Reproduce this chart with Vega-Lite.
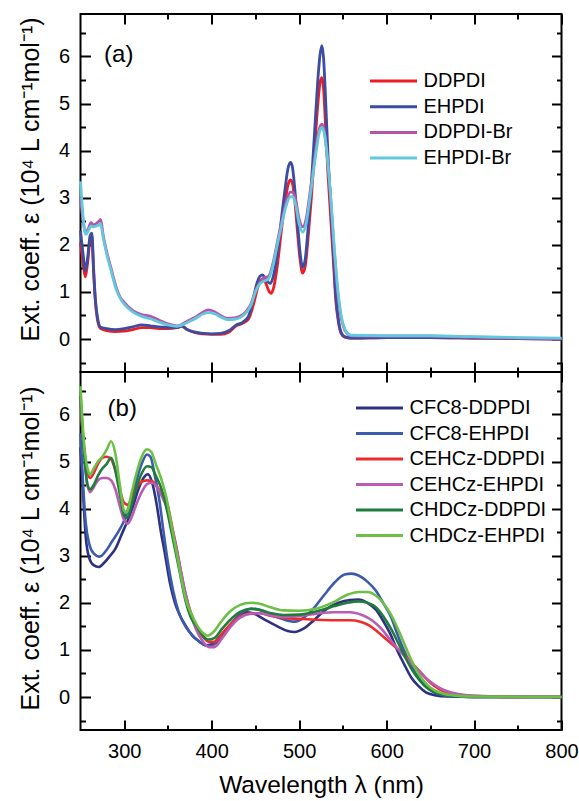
{
"$schema": "https://vega.github.io/schema/vega-lite/v6.json",
"background": "white",
"padding": {"top": 12, "left": 16.5, "right": 12, "bottom": 2},
"spacing": 0,
"bounds": "flush",
"config": {
  "view": {"stroke": "black", "strokeWidth": 2},
  "axis": {"grid": false, "domain": false, "tickColor": "black", "tickWidth": 2, "labelFont": "Liberation Sans", "labelFontSize": 20, "labelColor": "black", "titleFont": "Liberation Sans", "titleFontSize": 25, "titleFontWeight": "normal", "titleColor": "black", "labelFlush": false, "labelOverlap": false},
  "legend": {"labelFont": "Liberation Sans", "labelFontSize": 20, "labelColor": "black", "symbolType": "stroke", "symbolStrokeWidth": 3, "symbolSize": 2209, "clipHeight": 20, "padding": 0, "labelOffset": 5, "title": null},
  "text": {"font": "Liberation Sans"}
},
"resolve": {"scale": {"color": "independent"}},
"datasets": {
"a": [
{"s":"DDPDI","w":250,"e":2.05},{"s":"DDPDI","w":253,"e":1.6},{"s":"DDPDI","w":255.5,"e":1.32},{"s":"DDPDI","w":258,"e":1.6},{"s":"DDPDI","w":261,"e":2.1},{"s":"DDPDI","w":263,"e":2.15},{"s":"DDPDI","w":265,"e":1.4},{"s":"DDPDI","w":267,"e":0.8},{"s":"DDPDI","w":270,"e":0.35},{"s":"DDPDI","w":273,"e":0.22},{"s":"DDPDI","w":280,"e":0.18},{"s":"DDPDI","w":290,"e":0.16},{"s":"DDPDI","w":300,"e":0.17},{"s":"DDPDI","w":310,"e":0.2},{"s":"DDPDI","w":320,"e":0.24},{"s":"DDPDI","w":330,"e":0.24},{"s":"DDPDI","w":340,"e":0.22},{"s":"DDPDI","w":350,"e":0.22},{"s":"DDPDI","w":360,"e":0.24},{"s":"DDPDI","w":366,"e":0.27},{"s":"DDPDI","w":372,"e":0.2},{"s":"DDPDI","w":380,"e":0.14},{"s":"DDPDI","w":390,"e":0.11},{"s":"DDPDI","w":400,"e":0.1},{"s":"DDPDI","w":410,"e":0.1},{"s":"DDPDI","w":420,"e":0.15},{"s":"DDPDI","w":428,"e":0.28},{"s":"DDPDI","w":435,"e":0.33},{"s":"DDPDI","w":442,"e":0.42},{"s":"DDPDI","w":448,"e":0.75},{"s":"DDPDI","w":452,"e":1.05},{"s":"DDPDI","w":456,"e":1.25},{"s":"DDPDI","w":459,"e":1.28},{"s":"DDPDI","w":462,"e":1.18},{"s":"DDPDI","w":466,"e":1.0},{"s":"DDPDI","w":468,"e":0.97},{"s":"DDPDI","w":471,"e":1.1},{"s":"DDPDI","w":475,"e":1.55},{"s":"DDPDI","w":480,"e":2.35},{"s":"DDPDI","w":484,"e":2.9},{"s":"DDPDI","w":487,"e":3.25},{"s":"DDPDI","w":490,"e":3.38},{"s":"DDPDI","w":492,"e":3.33},{"s":"DDPDI","w":495,"e":2.95},{"s":"DDPDI","w":498,"e":2.3},{"s":"DDPDI","w":501,"e":1.7},{"s":"DDPDI","w":504,"e":1.4},{"s":"DDPDI","w":507,"e":1.55},{"s":"DDPDI","w":510,"e":2.1},{"s":"DDPDI","w":514,"e":3.0},{"s":"DDPDI","w":518,"e":4.1},{"s":"DDPDI","w":521,"e":4.9},{"s":"DDPDI","w":524,"e":5.45},{"s":"DDPDI","w":526,"e":5.55},{"s":"DDPDI","w":528,"e":5.3},{"s":"DDPDI","w":530,"e":4.6},{"s":"DDPDI","w":533,"e":3.5},{"s":"DDPDI","w":536,"e":2.6},{"s":"DDPDI","w":539,"e":1.7},{"s":"DDPDI","w":542,"e":0.8},{"s":"DDPDI","w":545,"e":0.35},{"s":"DDPDI","w":548,"e":0.12},{"s":"DDPDI","w":552,"e":0.04},{"s":"DDPDI","w":560,"e":0.02},{"s":"DDPDI","w":600,"e":0.03},{"s":"DDPDI","w":650,"e":0.03},{"s":"DDPDI","w":700,"e":0.02},{"s":"DDPDI","w":750,"e":0.01},{"s":"DDPDI","w":800,"e":0.0},
{"s":"EHPDI","w":250,"e":2.3},{"s":"EHPDI","w":253,"e":1.8},{"s":"EHPDI","w":255.5,"e":1.45},{"s":"EHPDI","w":258,"e":1.7},{"s":"EHPDI","w":261,"e":2.2},{"s":"EHPDI","w":263,"e":2.25},{"s":"EHPDI","w":265,"e":1.5},{"s":"EHPDI","w":267,"e":0.85},{"s":"EHPDI","w":270,"e":0.4},{"s":"EHPDI","w":273,"e":0.25},{"s":"EHPDI","w":280,"e":0.22},{"s":"EHPDI","w":290,"e":0.2},{"s":"EHPDI","w":300,"e":0.22},{"s":"EHPDI","w":310,"e":0.26},{"s":"EHPDI","w":320,"e":0.3},{"s":"EHPDI","w":330,"e":0.28},{"s":"EHPDI","w":340,"e":0.26},{"s":"EHPDI","w":350,"e":0.25},{"s":"EHPDI","w":360,"e":0.24},{"s":"EHPDI","w":366,"e":0.28},{"s":"EHPDI","w":372,"e":0.2},{"s":"EHPDI","w":380,"e":0.15},{"s":"EHPDI","w":390,"e":0.12},{"s":"EHPDI","w":400,"e":0.11},{"s":"EHPDI","w":410,"e":0.12},{"s":"EHPDI","w":420,"e":0.18},{"s":"EHPDI","w":428,"e":0.3},{"s":"EHPDI","w":435,"e":0.35},{"s":"EHPDI","w":442,"e":0.48},{"s":"EHPDI","w":448,"e":0.9},{"s":"EHPDI","w":452,"e":1.2},{"s":"EHPDI","w":455,"e":1.33},{"s":"EHPDI","w":458,"e":1.36},{"s":"EHPDI","w":461,"e":1.3},{"s":"EHPDI","w":465,"e":1.2},{"s":"EHPDI","w":467,"e":1.18},{"s":"EHPDI","w":470,"e":1.3},{"s":"EHPDI","w":475,"e":1.8},{"s":"EHPDI","w":480,"e":2.6},{"s":"EHPDI","w":484,"e":3.2},{"s":"EHPDI","w":487,"e":3.6},{"s":"EHPDI","w":490,"e":3.75},{"s":"EHPDI","w":492,"e":3.68},{"s":"EHPDI","w":495,"e":3.2},{"s":"EHPDI","w":498,"e":2.5},{"s":"EHPDI","w":501,"e":1.85},{"s":"EHPDI","w":504,"e":1.52},{"s":"EHPDI","w":507,"e":1.7},{"s":"EHPDI","w":510,"e":2.3},{"s":"EHPDI","w":514,"e":3.3},{"s":"EHPDI","w":518,"e":4.5},{"s":"EHPDI","w":521,"e":5.4},{"s":"EHPDI","w":524,"e":6.05},{"s":"EHPDI","w":526,"e":6.23},{"s":"EHPDI","w":528,"e":5.95},{"s":"EHPDI","w":530,"e":5.2},{"s":"EHPDI","w":533,"e":3.9},{"s":"EHPDI","w":536,"e":2.9},{"s":"EHPDI","w":539,"e":1.9},{"s":"EHPDI","w":542,"e":0.9},{"s":"EHPDI","w":545,"e":0.4},{"s":"EHPDI","w":548,"e":0.14},{"s":"EHPDI","w":552,"e":0.05},{"s":"EHPDI","w":560,"e":0.02},{"s":"EHPDI","w":600,"e":0.03},{"s":"EHPDI","w":650,"e":0.03},{"s":"EHPDI","w":700,"e":0.02},{"s":"EHPDI","w":750,"e":0.01},{"s":"EHPDI","w":800,"e":0.0},
{"s":"DDPDI-Br","w":250,"e":3.0},{"s":"DDPDI-Br","w":253,"e":2.5},{"s":"DDPDI-Br","w":256,"e":2.25},{"s":"DDPDI-Br","w":259,"e":2.35},{"s":"DDPDI-Br","w":262,"e":2.47},{"s":"DDPDI-Br","w":265,"e":2.42},{"s":"DDPDI-Br","w":268,"e":2.45},{"s":"DDPDI-Br","w":271,"e":2.5},{"s":"DDPDI-Br","w":273,"e":2.54},{"s":"DDPDI-Br","w":276,"e":2.2},{"s":"DDPDI-Br","w":280,"e":1.85},{"s":"DDPDI-Br","w":285,"e":1.5},{"s":"DDPDI-Br","w":290,"e":1.15},{"s":"DDPDI-Br","w":295,"e":0.9},{"s":"DDPDI-Br","w":300,"e":0.78},{"s":"DDPDI-Br","w":310,"e":0.6},{"s":"DDPDI-Br","w":320,"e":0.52},{"s":"DDPDI-Br","w":330,"e":0.48},{"s":"DDPDI-Br","w":340,"e":0.4},{"s":"DDPDI-Br","w":350,"e":0.32},{"s":"DDPDI-Br","w":360,"e":0.28},{"s":"DDPDI-Br","w":365,"e":0.3},{"s":"DDPDI-Br","w":372,"e":0.38},{"s":"DDPDI-Br","w":380,"e":0.45},{"s":"DDPDI-Br","w":390,"e":0.57},{"s":"DDPDI-Br","w":396,"e":0.62},{"s":"DDPDI-Br","w":403,"e":0.58},{"s":"DDPDI-Br","w":410,"e":0.5},{"s":"DDPDI-Br","w":418,"e":0.44},{"s":"DDPDI-Br","w":426,"e":0.45},{"s":"DDPDI-Br","w":433,"e":0.49},{"s":"DDPDI-Br","w":440,"e":0.6},{"s":"DDPDI-Br","w":445,"e":0.75},{"s":"DDPDI-Br","w":450,"e":1.02},{"s":"DDPDI-Br","w":455,"e":1.2},{"s":"DDPDI-Br","w":460,"e":1.3},{"s":"DDPDI-Br","w":465,"e":1.33},{"s":"DDPDI-Br","w":470,"e":1.6},{"s":"DDPDI-Br","w":475,"e":2.05},{"s":"DDPDI-Br","w":480,"e":2.5},{"s":"DDPDI-Br","w":485,"e":2.9},{"s":"DDPDI-Br","w":490,"e":3.12},{"s":"DDPDI-Br","w":493,"e":3.12},{"s":"DDPDI-Br","w":496,"e":2.95},{"s":"DDPDI-Br","w":500,"e":2.55},{"s":"DDPDI-Br","w":504,"e":2.38},{"s":"DDPDI-Br","w":508,"e":2.55},{"s":"DDPDI-Br","w":512,"e":3.05},{"s":"DDPDI-Br","w":516,"e":3.6},{"s":"DDPDI-Br","w":520,"e":4.15},{"s":"DDPDI-Br","w":523,"e":4.45},{"s":"DDPDI-Br","w":526,"e":4.56},{"s":"DDPDI-Br","w":529,"e":4.4},{"s":"DDPDI-Br","w":532,"e":3.9},{"s":"DDPDI-Br","w":536,"e":3.0},{"s":"DDPDI-Br","w":540,"e":1.9},{"s":"DDPDI-Br","w":544,"e":1.0},{"s":"DDPDI-Br","w":548,"e":0.45},{"s":"DDPDI-Br","w":552,"e":0.2},{"s":"DDPDI-Br","w":556,"e":0.1},{"s":"DDPDI-Br","w":560,"e":0.07},{"s":"DDPDI-Br","w":600,"e":0.06},{"s":"DDPDI-Br","w":650,"e":0.06},{"s":"DDPDI-Br","w":700,"e":0.04},{"s":"DDPDI-Br","w":750,"e":0.02},{"s":"DDPDI-Br","w":800,"e":0.01},
{"s":"EHPDI-Br","w":250,"e":3.35},{"s":"EHPDI-Br","w":253,"e":2.6},{"s":"EHPDI-Br","w":256,"e":2.22},{"s":"EHPDI-Br","w":259,"e":2.3},{"s":"EHPDI-Br","w":262,"e":2.4},{"s":"EHPDI-Br","w":265,"e":2.38},{"s":"EHPDI-Br","w":268,"e":2.4},{"s":"EHPDI-Br","w":271,"e":2.42},{"s":"EHPDI-Br","w":273,"e":2.45},{"s":"EHPDI-Br","w":276,"e":2.15},{"s":"EHPDI-Br","w":280,"e":1.8},{"s":"EHPDI-Br","w":285,"e":1.45},{"s":"EHPDI-Br","w":290,"e":1.1},{"s":"EHPDI-Br","w":295,"e":0.88},{"s":"EHPDI-Br","w":300,"e":0.74},{"s":"EHPDI-Br","w":310,"e":0.57},{"s":"EHPDI-Br","w":320,"e":0.48},{"s":"EHPDI-Br","w":330,"e":0.43},{"s":"EHPDI-Br","w":340,"e":0.36},{"s":"EHPDI-Br","w":350,"e":0.3},{"s":"EHPDI-Br","w":360,"e":0.27},{"s":"EHPDI-Br","w":365,"e":0.29},{"s":"EHPDI-Br","w":372,"e":0.35},{"s":"EHPDI-Br","w":380,"e":0.42},{"s":"EHPDI-Br","w":390,"e":0.53},{"s":"EHPDI-Br","w":396,"e":0.56},{"s":"EHPDI-Br","w":403,"e":0.54},{"s":"EHPDI-Br","w":410,"e":0.47},{"s":"EHPDI-Br","w":418,"e":0.41},{"s":"EHPDI-Br","w":426,"e":0.42},{"s":"EHPDI-Br","w":433,"e":0.46},{"s":"EHPDI-Br","w":440,"e":0.57},{"s":"EHPDI-Br","w":445,"e":0.72},{"s":"EHPDI-Br","w":450,"e":1.0},{"s":"EHPDI-Br","w":455,"e":1.17},{"s":"EHPDI-Br","w":460,"e":1.23},{"s":"EHPDI-Br","w":465,"e":1.28},{"s":"EHPDI-Br","w":470,"e":1.55},{"s":"EHPDI-Br","w":475,"e":2.0},{"s":"EHPDI-Br","w":480,"e":2.42},{"s":"EHPDI-Br","w":485,"e":2.82},{"s":"EHPDI-Br","w":490,"e":3.02},{"s":"EHPDI-Br","w":493,"e":3.02},{"s":"EHPDI-Br","w":496,"e":2.85},{"s":"EHPDI-Br","w":500,"e":2.45},{"s":"EHPDI-Br","w":504,"e":2.27},{"s":"EHPDI-Br","w":508,"e":2.45},{"s":"EHPDI-Br","w":512,"e":2.95},{"s":"EHPDI-Br","w":516,"e":3.5},{"s":"EHPDI-Br","w":520,"e":4.05},{"s":"EHPDI-Br","w":523,"e":4.38},{"s":"EHPDI-Br","w":526,"e":4.49},{"s":"EHPDI-Br","w":529,"e":4.35},{"s":"EHPDI-Br","w":532,"e":3.9},{"s":"EHPDI-Br","w":536,"e":3.05},{"s":"EHPDI-Br","w":540,"e":2.0},{"s":"EHPDI-Br","w":544,"e":1.1},{"s":"EHPDI-Br","w":548,"e":0.5},{"s":"EHPDI-Br","w":552,"e":0.22},{"s":"EHPDI-Br","w":556,"e":0.11},{"s":"EHPDI-Br","w":560,"e":0.08},{"s":"EHPDI-Br","w":600,"e":0.07},{"s":"EHPDI-Br","w":650,"e":0.07},{"s":"EHPDI-Br","w":700,"e":0.05},{"s":"EHPDI-Br","w":750,"e":0.03},{"s":"EHPDI-Br","w":800,"e":0.02}
],
"b": [
{"s":"CFC8-DDPDI","w":250,"e":5.3},{"s":"CFC8-DDPDI","w":253,"e":4.3},{"s":"CFC8-DDPDI","w":256,"e":3.4},{"s":"CFC8-DDPDI","w":260,"e":2.95},{"s":"CFC8-DDPDI","w":265,"e":2.8},{"s":"CFC8-DDPDI","w":271,"e":2.76},{"s":"CFC8-DDPDI","w":277,"e":2.85},{"s":"CFC8-DDPDI","w":283,"e":2.98},{"s":"CFC8-DDPDI","w":290,"e":3.15},{"s":"CFC8-DDPDI","w":297,"e":3.45},{"s":"CFC8-DDPDI","w":304,"e":3.75},{"s":"CFC8-DDPDI","w":310,"e":4.05},{"s":"CFC8-DDPDI","w":316,"e":4.4},{"s":"CFC8-DDPDI","w":322,"e":4.65},{"s":"CFC8-DDPDI","w":327,"e":4.73},{"s":"CFC8-DDPDI","w":332,"e":4.55},{"s":"CFC8-DDPDI","w":337,"e":4.1},{"s":"CFC8-DDPDI","w":342,"e":3.5},{"s":"CFC8-DDPDI","w":346,"e":3.1},{"s":"CFC8-DDPDI","w":352,"e":2.45},{"s":"CFC8-DDPDI","w":358,"e":2.0},{"s":"CFC8-DDPDI","w":364,"e":1.72},{"s":"CFC8-DDPDI","w":370,"e":1.52},{"s":"CFC8-DDPDI","w":378,"e":1.3},{"s":"CFC8-DDPDI","w":386,"e":1.18},{"s":"CFC8-DDPDI","w":393,"e":1.1},{"s":"CFC8-DDPDI","w":400,"e":1.12},{"s":"CFC8-DDPDI","w":410,"e":1.3},{"s":"CFC8-DDPDI","w":420,"e":1.5},{"s":"CFC8-DDPDI","w":430,"e":1.7},{"s":"CFC8-DDPDI","w":440,"e":1.8},{"s":"CFC8-DDPDI","w":447,"e":1.78},{"s":"CFC8-DDPDI","w":460,"e":1.65},{"s":"CFC8-DDPDI","w":475,"e":1.5},{"s":"CFC8-DDPDI","w":487,"e":1.4},{"s":"CFC8-DDPDI","w":495,"e":1.38},{"s":"CFC8-DDPDI","w":505,"e":1.45},{"s":"CFC8-DDPDI","w":515,"e":1.6},{"s":"CFC8-DDPDI","w":530,"e":1.85},{"s":"CFC8-DDPDI","w":545,"e":2.0},{"s":"CFC8-DDPDI","w":558,"e":2.06},{"s":"CFC8-DDPDI","w":568,"e":2.07},{"s":"CFC8-DDPDI","w":578,"e":2.0},{"s":"CFC8-DDPDI","w":588,"e":1.85},{"s":"CFC8-DDPDI","w":596,"e":1.62},{"s":"CFC8-DDPDI","w":604,"e":1.35},{"s":"CFC8-DDPDI","w":612,"e":1.0},{"s":"CFC8-DDPDI","w":620,"e":0.7},{"s":"CFC8-DDPDI","w":628,"e":0.42},{"s":"CFC8-DDPDI","w":636,"e":0.24},{"s":"CFC8-DDPDI","w":645,"e":0.1},{"s":"CFC8-DDPDI","w":655,"e":0.04},{"s":"CFC8-DDPDI","w":670,"e":0.01},{"s":"CFC8-DDPDI","w":700,"e":0.0},{"s":"CFC8-DDPDI","w":800,"e":0.0},
{"s":"CFC8-EHPDI","w":250,"e":5.6},{"s":"CFC8-EHPDI","w":253,"e":4.5},{"s":"CFC8-EHPDI","w":256,"e":3.7},{"s":"CFC8-EHPDI","w":260,"e":3.25},{"s":"CFC8-EHPDI","w":265,"e":3.05},{"s":"CFC8-EHPDI","w":272,"e":2.98},{"s":"CFC8-EHPDI","w":279,"e":3.1},{"s":"CFC8-EHPDI","w":286,"e":3.3},{"s":"CFC8-EHPDI","w":293,"e":3.5},{"s":"CFC8-EHPDI","w":300,"e":3.75},{"s":"CFC8-EHPDI","w":307,"e":4.15},{"s":"CFC8-EHPDI","w":314,"e":4.6},{"s":"CFC8-EHPDI","w":320,"e":4.95},{"s":"CFC8-EHPDI","w":326,"e":5.15},{"s":"CFC8-EHPDI","w":330,"e":5.1},{"s":"CFC8-EHPDI","w":335,"e":4.7},{"s":"CFC8-EHPDI","w":340,"e":4.2},{"s":"CFC8-EHPDI","w":345,"e":3.5},{"s":"CFC8-EHPDI","w":350,"e":2.85},{"s":"CFC8-EHPDI","w":356,"e":2.25},{"s":"CFC8-EHPDI","w":362,"e":1.82},{"s":"CFC8-EHPDI","w":370,"e":1.5},{"s":"CFC8-EHPDI","w":380,"e":1.27},{"s":"CFC8-EHPDI","w":390,"e":1.12},{"s":"CFC8-EHPDI","w":398,"e":1.08},{"s":"CFC8-EHPDI","w":408,"e":1.2},{"s":"CFC8-EHPDI","w":420,"e":1.5},{"s":"CFC8-EHPDI","w":432,"e":1.75},{"s":"CFC8-EHPDI","w":445,"e":1.88},{"s":"CFC8-EHPDI","w":455,"e":1.85},{"s":"CFC8-EHPDI","w":468,"e":1.75},{"s":"CFC8-EHPDI","w":482,"e":1.65},{"s":"CFC8-EHPDI","w":495,"e":1.6},{"s":"CFC8-EHPDI","w":505,"e":1.68},{"s":"CFC8-EHPDI","w":515,"e":1.85},{"s":"CFC8-EHPDI","w":528,"e":2.15},{"s":"CFC8-EHPDI","w":540,"e":2.42},{"s":"CFC8-EHPDI","w":552,"e":2.6},{"s":"CFC8-EHPDI","w":560,"e":2.62},{"s":"CFC8-EHPDI","w":568,"e":2.58},{"s":"CFC8-EHPDI","w":578,"e":2.45},{"s":"CFC8-EHPDI","w":588,"e":2.25},{"s":"CFC8-EHPDI","w":596,"e":2.0},{"s":"CFC8-EHPDI","w":605,"e":1.7},{"s":"CFC8-EHPDI","w":613,"e":1.3},{"s":"CFC8-EHPDI","w":622,"e":0.9},{"s":"CFC8-EHPDI","w":630,"e":0.6},{"s":"CFC8-EHPDI","w":638,"e":0.38},{"s":"CFC8-EHPDI","w":646,"e":0.2},{"s":"CFC8-EHPDI","w":655,"e":0.09},{"s":"CFC8-EHPDI","w":665,"e":0.04},{"s":"CFC8-EHPDI","w":680,"e":0.01},{"s":"CFC8-EHPDI","w":700,"e":0.0},{"s":"CFC8-EHPDI","w":800,"e":0.0},
{"s":"CEHCz-DDPDI","w":250,"e":6.3},{"s":"CEHCz-DDPDI","w":254,"e":5.3},{"s":"CEHCz-DDPDI","w":258,"e":4.75},{"s":"CEHCz-DDPDI","w":261,"e":4.65},{"s":"CEHCz-DDPDI","w":265,"e":4.75},{"s":"CEHCz-DDPDI","w":270,"e":4.95},{"s":"CEHCz-DDPDI","w":275,"e":5.08},{"s":"CEHCz-DDPDI","w":280,"e":5.1},{"s":"CEHCz-DDPDI","w":285,"e":5.05},{"s":"CEHCz-DDPDI","w":290,"e":4.8},{"s":"CEHCz-DDPDI","w":295,"e":4.4},{"s":"CEHCz-DDPDI","w":300,"e":4.12},{"s":"CEHCz-DDPDI","w":304,"e":4.08},{"s":"CEHCz-DDPDI","w":308,"e":4.2},{"s":"CEHCz-DDPDI","w":314,"e":4.45},{"s":"CEHCz-DDPDI","w":320,"e":4.57},{"s":"CEHCz-DDPDI","w":326,"e":4.6},{"s":"CEHCz-DDPDI","w":332,"e":4.58},{"s":"CEHCz-DDPDI","w":338,"e":4.45},{"s":"CEHCz-DDPDI","w":344,"e":4.3},{"s":"CEHCz-DDPDI","w":350,"e":4.05},{"s":"CEHCz-DDPDI","w":355,"e":3.6},{"s":"CEHCz-DDPDI","w":360,"e":3.15},{"s":"CEHCz-DDPDI","w":365,"e":2.65},{"s":"CEHCz-DDPDI","w":370,"e":2.2},{"s":"CEHCz-DDPDI","w":376,"e":1.8},{"s":"CEHCz-DDPDI","w":383,"e":1.5},{"s":"CEHCz-DDPDI","w":390,"e":1.28},{"s":"CEHCz-DDPDI","w":397,"e":1.17},{"s":"CEHCz-DDPDI","w":403,"e":1.17},{"s":"CEHCz-DDPDI","w":412,"e":1.35},{"s":"CEHCz-DDPDI","w":422,"e":1.55},{"s":"CEHCz-DDPDI","w":432,"e":1.7},{"s":"CEHCz-DDPDI","w":445,"e":1.78},{"s":"CEHCz-DDPDI","w":455,"e":1.78},{"s":"CEHCz-DDPDI","w":468,"e":1.72},{"s":"CEHCz-DDPDI","w":482,"e":1.68},{"s":"CEHCz-DDPDI","w":500,"e":1.66},{"s":"CEHCz-DDPDI","w":520,"e":1.64},{"s":"CEHCz-DDPDI","w":540,"e":1.63},{"s":"CEHCz-DDPDI","w":558,"e":1.63},{"s":"CEHCz-DDPDI","w":570,"e":1.6},{"s":"CEHCz-DDPDI","w":580,"e":1.52},{"s":"CEHCz-DDPDI","w":590,"e":1.38},{"s":"CEHCz-DDPDI","w":600,"e":1.22},{"s":"CEHCz-DDPDI","w":610,"e":1.06},{"s":"CEHCz-DDPDI","w":620,"e":0.9},{"s":"CEHCz-DDPDI","w":630,"e":0.7},{"s":"CEHCz-DDPDI","w":640,"e":0.5},{"s":"CEHCz-DDPDI","w":650,"e":0.3},{"s":"CEHCz-DDPDI","w":660,"e":0.17},{"s":"CEHCz-DDPDI","w":670,"e":0.09},{"s":"CEHCz-DDPDI","w":685,"e":0.04},{"s":"CEHCz-DDPDI","w":700,"e":0.02},{"s":"CEHCz-DDPDI","w":750,"e":0.0},{"s":"CEHCz-DDPDI","w":800,"e":0.0},
{"s":"CEHCz-EHPDI","w":250,"e":6.3},{"s":"CEHCz-EHPDI","w":254,"e":5.2},{"s":"CEHCz-EHPDI","w":258,"e":4.5},{"s":"CEHCz-EHPDI","w":261,"e":4.35},{"s":"CEHCz-EHPDI","w":265,"e":4.45},{"s":"CEHCz-EHPDI","w":270,"e":4.6},{"s":"CEHCz-EHPDI","w":275,"e":4.65},{"s":"CEHCz-EHPDI","w":280,"e":4.65},{"s":"CEHCz-EHPDI","w":285,"e":4.6},{"s":"CEHCz-EHPDI","w":290,"e":4.4},{"s":"CEHCz-EHPDI","w":295,"e":4.05},{"s":"CEHCz-EHPDI","w":300,"e":3.75},{"s":"CEHCz-EHPDI","w":304,"e":3.68},{"s":"CEHCz-EHPDI","w":308,"e":3.8},{"s":"CEHCz-EHPDI","w":314,"e":4.1},{"s":"CEHCz-EHPDI","w":320,"e":4.35},{"s":"CEHCz-EHPDI","w":326,"e":4.52},{"s":"CEHCz-EHPDI","w":331,"e":4.55},{"s":"CEHCz-EHPDI","w":336,"e":4.5},{"s":"CEHCz-EHPDI","w":342,"e":4.3},{"s":"CEHCz-EHPDI","w":348,"e":4.05},{"s":"CEHCz-EHPDI","w":353,"e":3.7},{"s":"CEHCz-EHPDI","w":358,"e":3.3},{"s":"CEHCz-EHPDI","w":364,"e":2.75},{"s":"CEHCz-EHPDI","w":370,"e":2.2},{"s":"CEHCz-EHPDI","w":376,"e":1.75},{"s":"CEHCz-EHPDI","w":383,"e":1.4},{"s":"CEHCz-EHPDI","w":390,"e":1.18},{"s":"CEHCz-EHPDI","w":397,"e":1.06},{"s":"CEHCz-EHPDI","w":403,"e":1.06},{"s":"CEHCz-EHPDI","w":412,"e":1.25},{"s":"CEHCz-EHPDI","w":422,"e":1.5},{"s":"CEHCz-EHPDI","w":432,"e":1.68},{"s":"CEHCz-EHPDI","w":445,"e":1.77},{"s":"CEHCz-EHPDI","w":455,"e":1.78},{"s":"CEHCz-EHPDI","w":468,"e":1.73},{"s":"CEHCz-EHPDI","w":482,"e":1.7},{"s":"CEHCz-EHPDI","w":500,"e":1.72},{"s":"CEHCz-EHPDI","w":520,"e":1.77},{"s":"CEHCz-EHPDI","w":540,"e":1.8},{"s":"CEHCz-EHPDI","w":558,"e":1.8},{"s":"CEHCz-EHPDI","w":572,"e":1.74},{"s":"CEHCz-EHPDI","w":584,"e":1.62},{"s":"CEHCz-EHPDI","w":594,"e":1.45},{"s":"CEHCz-EHPDI","w":604,"e":1.22},{"s":"CEHCz-EHPDI","w":614,"e":1.0},{"s":"CEHCz-EHPDI","w":624,"e":0.8},{"s":"CEHCz-EHPDI","w":634,"e":0.6},{"s":"CEHCz-EHPDI","w":644,"e":0.42},{"s":"CEHCz-EHPDI","w":654,"e":0.27},{"s":"CEHCz-EHPDI","w":664,"e":0.16},{"s":"CEHCz-EHPDI","w":675,"e":0.09},{"s":"CEHCz-EHPDI","w":690,"e":0.04},{"s":"CEHCz-EHPDI","w":710,"e":0.02},{"s":"CEHCz-EHPDI","w":750,"e":0.0},{"s":"CEHCz-EHPDI","w":800,"e":0.0},
{"s":"CHDCz-DDPDI","w":250,"e":6.4},{"s":"CHDCz-DDPDI","w":254,"e":5.2},{"s":"CHDCz-DDPDI","w":258,"e":4.5},{"s":"CHDCz-DDPDI","w":261,"e":4.41},{"s":"CHDCz-DDPDI","w":265,"e":4.5},{"s":"CHDCz-DDPDI","w":270,"e":4.7},{"s":"CHDCz-DDPDI","w":275,"e":4.85},{"s":"CHDCz-DDPDI","w":280,"e":4.95},{"s":"CHDCz-DDPDI","w":285,"e":5.08},{"s":"CHDCz-DDPDI","w":290,"e":4.8},{"s":"CHDCz-DDPDI","w":295,"e":4.3},{"s":"CHDCz-DDPDI","w":300,"e":3.85},{"s":"CHDCz-DDPDI","w":303,"e":3.8},{"s":"CHDCz-DDPDI","w":308,"e":4.05},{"s":"CHDCz-DDPDI","w":314,"e":4.45},{"s":"CHDCz-DDPDI","w":320,"e":4.75},{"s":"CHDCz-DDPDI","w":326,"e":4.9},{"s":"CHDCz-DDPDI","w":331,"e":4.88},{"s":"CHDCz-DDPDI","w":336,"e":4.7},{"s":"CHDCz-DDPDI","w":342,"e":4.45},{"s":"CHDCz-DDPDI","w":348,"e":4.05},{"s":"CHDCz-DDPDI","w":353,"e":3.6},{"s":"CHDCz-DDPDI","w":358,"e":3.15},{"s":"CHDCz-DDPDI","w":364,"e":2.6},{"s":"CHDCz-DDPDI","w":370,"e":2.05},{"s":"CHDCz-DDPDI","w":376,"e":1.7},{"s":"CHDCz-DDPDI","w":383,"e":1.5},{"s":"CHDCz-DDPDI","w":390,"e":1.3},{"s":"CHDCz-DDPDI","w":396,"e":1.22},{"s":"CHDCz-DDPDI","w":403,"e":1.25},{"s":"CHDCz-DDPDI","w":412,"e":1.45},{"s":"CHDCz-DDPDI","w":422,"e":1.65},{"s":"CHDCz-DDPDI","w":432,"e":1.8},{"s":"CHDCz-DDPDI","w":445,"e":1.87},{"s":"CHDCz-DDPDI","w":455,"e":1.85},{"s":"CHDCz-DDPDI","w":468,"e":1.78},{"s":"CHDCz-DDPDI","w":482,"e":1.74},{"s":"CHDCz-DDPDI","w":500,"e":1.75},{"s":"CHDCz-DDPDI","w":520,"e":1.82},{"s":"CHDCz-DDPDI","w":540,"e":1.93},{"s":"CHDCz-DDPDI","w":555,"e":2.0},{"s":"CHDCz-DDPDI","w":568,"e":2.03},{"s":"CHDCz-DDPDI","w":578,"e":2.0},{"s":"CHDCz-DDPDI","w":588,"e":1.9},{"s":"CHDCz-DDPDI","w":596,"e":1.72},{"s":"CHDCz-DDPDI","w":605,"e":1.45},{"s":"CHDCz-DDPDI","w":614,"e":1.12},{"s":"CHDCz-DDPDI","w":622,"e":0.82},{"s":"CHDCz-DDPDI","w":630,"e":0.55},{"s":"CHDCz-DDPDI","w":638,"e":0.35},{"s":"CHDCz-DDPDI","w":646,"e":0.2},{"s":"CHDCz-DDPDI","w":655,"e":0.1},{"s":"CHDCz-DDPDI","w":665,"e":0.05},{"s":"CHDCz-DDPDI","w":680,"e":0.02},{"s":"CHDCz-DDPDI","w":700,"e":0.0},{"s":"CHDCz-DDPDI","w":800,"e":0.0},
{"s":"CHDCz-EHPDI","w":250,"e":6.6},{"s":"CHDCz-EHPDI","w":254,"e":5.4},{"s":"CHDCz-EHPDI","w":258,"e":4.85},{"s":"CHDCz-EHPDI","w":261,"e":4.72},{"s":"CHDCz-EHPDI","w":265,"e":4.85},{"s":"CHDCz-EHPDI","w":270,"e":5.0},{"s":"CHDCz-EHPDI","w":275,"e":5.1},{"s":"CHDCz-EHPDI","w":280,"e":5.25},{"s":"CHDCz-EHPDI","w":285,"e":5.43},{"s":"CHDCz-EHPDI","w":290,"e":5.15},{"s":"CHDCz-EHPDI","w":295,"e":4.5},{"s":"CHDCz-EHPDI","w":300,"e":3.95},{"s":"CHDCz-EHPDI","w":303,"e":3.92},{"s":"CHDCz-EHPDI","w":308,"e":4.3},{"s":"CHDCz-EHPDI","w":314,"e":4.75},{"s":"CHDCz-EHPDI","w":320,"e":5.1},{"s":"CHDCz-EHPDI","w":326,"e":5.26},{"s":"CHDCz-EHPDI","w":331,"e":5.2},{"s":"CHDCz-EHPDI","w":336,"e":4.95},{"s":"CHDCz-EHPDI","w":342,"e":4.65},{"s":"CHDCz-EHPDI","w":348,"e":4.25},{"s":"CHDCz-EHPDI","w":353,"e":3.75},{"s":"CHDCz-EHPDI","w":358,"e":3.25},{"s":"CHDCz-EHPDI","w":364,"e":2.65},{"s":"CHDCz-EHPDI","w":370,"e":2.1},{"s":"CHDCz-EHPDI","w":377,"e":1.75},{"s":"CHDCz-EHPDI","w":384,"e":1.5},{"s":"CHDCz-EHPDI","w":390,"e":1.36},{"s":"CHDCz-EHPDI","w":395,"e":1.3},{"s":"CHDCz-EHPDI","w":402,"e":1.38},{"s":"CHDCz-EHPDI","w":410,"e":1.58},{"s":"CHDCz-EHPDI","w":420,"e":1.8},{"s":"CHDCz-EHPDI","w":432,"e":1.95},{"s":"CHDCz-EHPDI","w":445,"e":2.0},{"s":"CHDCz-EHPDI","w":455,"e":1.98},{"s":"CHDCz-EHPDI","w":468,"e":1.9},{"s":"CHDCz-EHPDI","w":482,"e":1.84},{"s":"CHDCz-EHPDI","w":500,"e":1.83},{"s":"CHDCz-EHPDI","w":520,"e":1.88},{"s":"CHDCz-EHPDI","w":540,"e":2.02},{"s":"CHDCz-EHPDI","w":555,"e":2.17},{"s":"CHDCz-EHPDI","w":568,"e":2.23},{"s":"CHDCz-EHPDI","w":578,"e":2.23},{"s":"CHDCz-EHPDI","w":588,"e":2.15},{"s":"CHDCz-EHPDI","w":596,"e":2.0},{"s":"CHDCz-EHPDI","w":605,"e":1.75},{"s":"CHDCz-EHPDI","w":614,"e":1.4},{"s":"CHDCz-EHPDI","w":622,"e":1.05},{"s":"CHDCz-EHPDI","w":630,"e":0.72},{"s":"CHDCz-EHPDI","w":638,"e":0.45},{"s":"CHDCz-EHPDI","w":646,"e":0.27},{"s":"CHDCz-EHPDI","w":655,"e":0.14},{"s":"CHDCz-EHPDI","w":665,"e":0.07},{"s":"CHDCz-EHPDI","w":680,"e":0.03},{"s":"CHDCz-EHPDI","w":700,"e":0.01},{"s":"CHDCz-EHPDI","w":800,"e":0.0}
]
},
"vconcat": [
{
  "width": 481, "height": 358,
  "data": {"name": "a"},
  "resolve": {"axis": {"x": "independent", "y": "independent"}},
  "layer": [
    {"mark": {"type": "line", "strokeWidth": 2.8, "interpolate": "monotone"},
     "encoding": {
      "x": {"field": "w", "type": "quantitative", "scale": {"domain": [250, 800], "nice": false, "zero": false}, "axis": {"orient": "bottom", "labels": false, "ticks": false, "title": null}},
      "y": {"field": "e", "type": "quantitative", "scale": {"domain": [-0.7, 6.9], "nice": false, "zero": false}, "axis": {"orient": "left", "values": [0,1,2,3,4,5,6], "ticks": false, "labelPadding": 11, "title": "Ext. coeff. ε (10⁴ L cm⁻¹mol⁻¹)", "titlePadding": 15, "titleY": 165}},
      "color": {"field": "s", "type": "nominal", "scale": {"domain": ["DDPDI","EHPDI","DDPDI-Br","EHPDI-Br"], "range": ["#ee1d25","#3a4da0","#b553a9","#63c8dd"]}, "legend": {"orient": "none", "legendX": 288, "legendY": 57, "rowPadding": 5.7}}
     }},
    {"mark": {"type": "point", "opacity": 0},
     "encoding": {
      "x": {"field": "w", "type": "quantitative", "axis": {"orient": "bottom", "values": [300,400,500,600,700,800], "labels": false, "tickSize": -10, "title": null}},
      "y": {"field": "e", "type": "quantitative", "axis": {"orient": "left", "values": [0,1,2,3,4,5,6], "labels": false, "tickSize": -10, "title": null}}
     }},
    {"mark": {"type": "point", "opacity": 0},
     "encoding": {
      "x": {"field": "w", "type": "quantitative", "axis": {"orient": "bottom", "values": [350,450,550,650,750], "labels": false, "tickSize": -5, "title": null}},
      "y": {"field": "e", "type": "quantitative", "axis": {"orient": "left", "values": [-0.5,0.5,1.5,2.5,3.5,4.5,5.5,6.5], "labels": false, "tickSize": -5, "title": null}}
     }},
    {"mark": {"type": "point", "opacity": 0},
     "encoding": {
      "x": {"field": "w", "type": "quantitative", "axis": {"orient": "top", "values": [300,400,500,600,700,800], "labels": false, "tickSize": -10, "title": null}},
      "y": {"field": "e", "type": "quantitative", "axis": {"orient": "right", "values": [0,1,2,3,4,5,6], "labels": false, "tickSize": -10, "title": null}}
     }},
    {"mark": {"type": "point", "opacity": 0},
     "encoding": {
      "x": {"field": "w", "type": "quantitative", "axis": {"orient": "top", "values": [350,450,550,650,750], "labels": false, "tickSize": -5, "title": null}},
      "y": {"field": "e", "type": "quantitative", "axis": {"orient": "right", "values": [-0.5,0.5,1.5,2.5,3.5,4.5,5.5,6.5], "labels": false, "tickSize": -5, "title": null}}
     }},
    {"data": {"values": [{"label": "(a)"}]},
     "mark": {"type": "text", "fontSize": 24, "fontWeight": "normal", "align": "left", "baseline": "middle", "color": "black"},
     "encoding": {
      "x": {"datum": 277, "type": "quantitative", "axis": null},
      "y": {"datum": 6.04, "type": "quantitative", "axis": null},
      "text": {"field": "label"}
     }}
  ]
},
{
  "width": 481, "height": 358,
  "data": {"name": "b"},
  "resolve": {"axis": {"x": "independent", "y": "independent"}},
  "layer": [
    {"mark": {"type": "line", "strokeWidth": 2.6, "interpolate": "monotone"},
     "encoding": {
      "x": {"field": "w", "type": "quantitative", "scale": {"domain": [250, 800], "nice": false, "zero": false}, "axis": {"orient": "bottom", "values": [300,400,500,600,700,800], "ticks": false, "labelPadding": 11, "title": "Wavelength λ (nm)", "titleFontSize": 24.5, "titlePadding": 12}},
      "y": {"field": "e", "type": "quantitative", "scale": {"domain": [-0.7, 6.9], "nice": false, "zero": false}, "axis": {"orient": "left", "values": [0,1,2,3,4,5,6], "ticks": false, "labelPadding": 11, "title": "Ext. coeff. ε (10⁴ L cm⁻¹mol⁻¹)", "titlePadding": 15, "titleY": 176}},
      "color": {"field": "s", "type": "nominal", "scale": {"domain": ["CFC8-DDPDI","CFC8-EHPDI","CEHCz-DDPDI","CEHCz-EHPDI","CHDCz-DDPDI","CHDCz-EHPDI"], "range": ["#2e3182","#3b5cad","#ee2b2b","#b85cb6","#1f7c3d","#6cc046"]}, "legend": {"orient": "none", "legendX": 274, "legendY": 26, "rowPadding": 5.5}}
     }},
    {"mark": {"type": "point", "opacity": 0},
     "encoding": {
      "x": {"field": "w", "type": "quantitative", "axis": {"orient": "bottom", "values": [300,400,500,600,700,800], "labels": false, "tickSize": -10, "title": null}},
      "y": {"field": "e", "type": "quantitative", "axis": {"orient": "left", "values": [0,1,2,3,4,5,6], "labels": false, "tickSize": -10, "title": null}}
     }},
    {"mark": {"type": "point", "opacity": 0},
     "encoding": {
      "x": {"field": "w", "type": "quantitative", "axis": {"orient": "bottom", "values": [350,450,550,650,750], "labels": false, "tickSize": -5, "title": null}},
      "y": {"field": "e", "type": "quantitative", "axis": {"orient": "left", "values": [-0.5,0.5,1.5,2.5,3.5,4.5,5.5,6.5], "labels": false, "tickSize": -5, "title": null}}
     }},
    {"mark": {"type": "point", "opacity": 0},
     "encoding": {
      "x": {"field": "w", "type": "quantitative", "axis": {"orient": "top", "values": [300,400,500,600,700,800], "labels": false, "tickSize": -10, "title": null}},
      "y": {"field": "e", "type": "quantitative", "axis": {"orient": "right", "values": [0,1,2,3,4,5,6], "labels": false, "tickSize": -10, "title": null}}
     }},
    {"mark": {"type": "point", "opacity": 0},
     "encoding": {
      "x": {"field": "w", "type": "quantitative", "axis": {"orient": "top", "values": [350,450,550,650,750], "labels": false, "tickSize": -5, "title": null}},
      "y": {"field": "e", "type": "quantitative", "axis": {"orient": "right", "values": [-0.5,0.5,1.5,2.5,3.5,4.5,5.5,6.5], "labels": false, "tickSize": -5, "title": null}}
     }},
    {"data": {"values": [{"label": "(b)"}]},
     "mark": {"type": "text", "fontSize": 24, "fontWeight": "normal", "align": "left", "baseline": "middle", "color": "black"},
     "encoding": {
      "x": {"datum": 281, "type": "quantitative", "axis": null},
      "y": {"datum": 6.11, "type": "quantitative", "axis": null},
      "text": {"field": "label"}
     }}
  ]
}
]
}
